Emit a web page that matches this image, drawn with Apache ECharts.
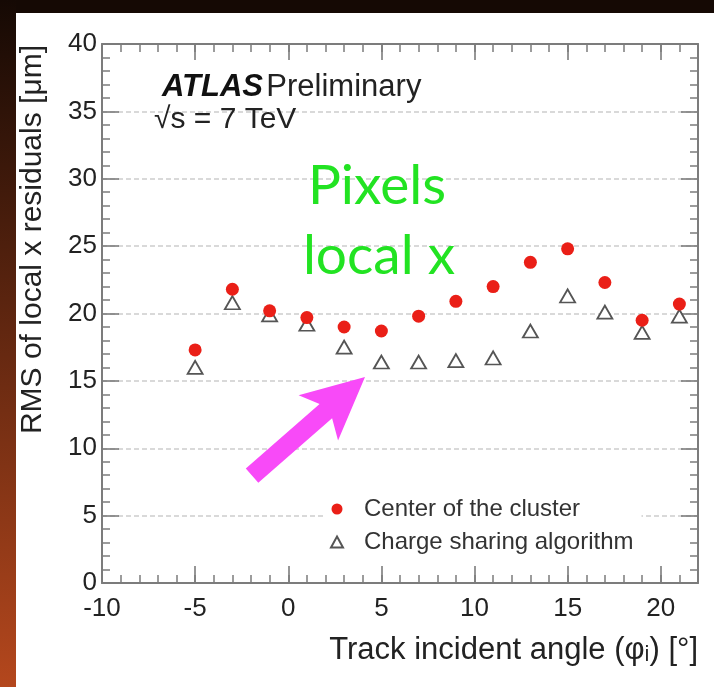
<!DOCTYPE html>
<html>
<head>
<meta charset="utf-8">
<script src="https://cdn.jsdelivr.net/npm/echarts@6/dist/echarts.min.js"></script>
<style>
html,body{margin:0;padding:0;background:#fff;}
#chart{width:714px;height:687px;}
</style>
</head>
<body>
<div id="chart"></div>
<script>
// ---- data ----
const angles = [-5, -3, -1, 1, 3, 5, 7, 9, 11, 13, 15, 17, 19, 21];
const centerOfCluster = [17.3, 21.8, 20.2, 19.7, 19.0, 18.7, 19.8, 20.9, 22.0, 23.8, 24.8, 22.3, 19.5, 20.7];
const chargeSharing = [16.0, 20.8, 19.9, 19.2, 17.5, 16.4, 16.4, 16.5, 16.7, 18.7, 21.3, 20.1, 18.6, 19.8];
const seriesNames = ['Center of the cluster', 'Charge sharing algorithm'];
const xTickLabels = [-10, -5, 0, 5, 10, 15, 20];
const yTickLabels = [0, 5, 10, 15, 20, 25, 30, 35, 40];

const FONT = '"Liberation Sans", Arial, Helvetica, sans-serif';
const AXIS_COLOR = '#7c7c7c';

const chart = echarts.init(document.getElementById('chart'), null, {renderer: 'canvas'});

function pairs(xs, ys) { return xs.map((x, i) => [x, ys[i]]); }

// arrow annotation geometry (annotation, not data)
function arrowPoints(tip, ux, uy, headLen, headHalf, notch, shaftHalf, tailLen) {
  const px = -uy, py = ux;
  const P = (a, p) => [tip[0] + a * ux + p * px, tip[1] + a * uy + p * py];
  return [
    P(0, 0),
    P(headLen, headHalf),
    P(notch, shaftHalf),
    P(tailLen, shaftHalf),
    P(tailLen, -shaftHalf),
    P(notch, -shaftHalf),
    P(headLen, -headHalf)
  ];
}
const arrowPts = arrowPoints([365, 377], -0.753, 0.658, 62, 30, 52, 9.5, 150);

const xCommon = {type: 'value', min: -10, max: 22, gridIndex: 0};

const option = {
  backgroundColor: '#ffffff',
  animation: false,
  grid: {left: 102, right: 16, top: 44, bottom: 104, containLabel: false, outerBoundsMode: 'none'},
  legend: {
    orient: 'vertical',
    left: 325,
    top: 492,
    itemWidth: 12,
    itemHeight: 11,
    itemGap: 9,
    backgroundColor: '#ffffff',
    padding: [5, 8, 5, 5],
    data: [{name: seriesNames[0], icon: 'circle'}, {name: seriesNames[1], icon: 'triangle'}],
    textStyle: {fontSize: 24, color: '#333', fontFamily: FONT, padding: [0, 0, 0, 16]}
  },
  xAxis: [
    Object.assign({}, xCommon, {
      position: 'bottom', interval: 5,
      axisLine: {show: true, onZero: false, lineStyle: {color: AXIS_COLOR, width: 2}},
      axisTick: {show: true, inside: true, length: 17, lineStyle: {color: AXIS_COLOR, width: 1.6}},
      axisLabel: {show: true, fontSize: 26, color: '#222', fontFamily: FONT, margin: 13,
        showMaxLabel: false,
        formatter: v => (xTickLabels.indexOf(v) >= 0 ? String(v) : '')},
      splitLine: {show: false},
      name: 'Track incident angle (φᵢ) [°]',
      nameLocation: 'end',
      nameGap: 0,
      nameTextStyle: {fontSize: 31, color: '#222', fontFamily: FONT, align: 'right', verticalAlign: 'top', padding: [52, 0, 0, 0]}
    }),
    Object.assign({}, xCommon, {
      position: 'bottom', interval: 1,
      axisLine: {show: false, onZero: false},
      axisTick: {show: true, inside: true, length: 8, lineStyle: {color: AXIS_COLOR, width: 1.5}},
      axisLabel: {show: false}, splitLine: {show: false}
    }),
    Object.assign({}, xCommon, {
      position: 'top', interval: 5,
      axisLine: {show: true, onZero: false, lineStyle: {color: AXIS_COLOR, width: 2}},
      axisTick: {show: true, inside: true, length: 16, lineStyle: {color: AXIS_COLOR, width: 1.6}},
      axisLabel: {show: false}, splitLine: {show: false}
    }),
    Object.assign({}, xCommon, {
      position: 'top', interval: 1,
      axisLine: {show: false, onZero: false},
      axisTick: {show: true, inside: true, length: 8, lineStyle: {color: AXIS_COLOR, width: 1.5}},
      axisLabel: {show: false}, splitLine: {show: false}
    })
  ],
  yAxis: [
    {
      type: 'value', min: 0, max: 40, interval: 5, position: 'left',
      axisLine: {show: true, onZero: false, lineStyle: {color: AXIS_COLOR, width: 2}},
      axisTick: {show: true, inside: true, length: 17, lineStyle: {color: AXIS_COLOR, width: 1.6}},
      minorTick: {show: true, splitNumber: 5, length: 8, lineStyle: {color: AXIS_COLOR, width: 1.5}},
      axisLabel: {show: true, fontSize: 26, color: '#222', fontFamily: FONT, margin: 5,
        formatter: v => (yTickLabels.indexOf(v) >= 0 ? String(v) : '')},
      splitLine: {show: true, lineStyle: {color: '#cdcdcd', width: 1.5, type: [5, 3]}},
      name: 'RMS of local x residuals [μm]',
      nameLocation: 'end',
      nameRotate: 90,
      nameGap: -1,
      nameTextStyle: {fontSize: 30, color: '#222', fontFamily: FONT, align: 'right', verticalAlign: 'bottom', padding: [0, 0, 54, 0]}
    },
    {
      type: 'value', min: 0, max: 40, interval: 5, position: 'right',
      axisLine: {show: true, onZero: false, lineStyle: {color: AXIS_COLOR, width: 2}},
      axisTick: {show: true, inside: true, length: 17, lineStyle: {color: AXIS_COLOR, width: 1.6}},
      minorTick: {show: true, splitNumber: 5, length: 8, lineStyle: {color: AXIS_COLOR, width: 1.5}},
      axisLabel: {show: false}, splitLine: {show: false}
    }
  ],
  series: [
    {
      name: seriesNames[1],
      type: 'scatter',
      xAxisIndex: 0, yAxisIndex: 0,
      symbol: 'triangle',
      symbolSize: [15, 13],
      itemStyle: {color: '#ffffff', borderColor: '#555555', borderWidth: 1.8, opacity: 1},
      data: pairs(angles, chargeSharing),
      z: 3
    },
    {
      name: seriesNames[0],
      type: 'scatter',
      xAxisIndex: 0, yAxisIndex: 0,
      symbol: 'circle',
      symbolSize: 13,
      itemStyle: {color: '#ea1f17', opacity: 1},
      data: pairs(angles, centerOfCluster),
      z: 4
    }
  ],
  graphic: [
    {type: 'rect', silent: true, z: -10, shape: {x: 0, y: 0, width: 714, height: 13}, style: {fill: '#150904'}},
    {type: 'rect', silent: true, z: -10, shape: {x: 0, y: 0, width: 16, height: 687},
      style: {fill: new echarts.graphic.LinearGradient(0, 0, 0, 1, [{offset: 0, color: '#150904'}, {offset: 1, color: '#b4471d'}])}},
    {type: 'text', silent: true, z: 50, x: 162, y: 87,
      style: {text: '{b|ATLAS} {r|Preliminary}', verticalAlign: 'middle', align: 'left',
        rich: {
          b: {fontSize: 31, fontWeight: 'bold', fontStyle: 'italic', fontFamily: FONT, fill: '#111'},
          r: {fontSize: 31, fontFamily: FONT, fill: '#222'}
        }}},
    {type: 'text', silent: true, z: 50, x: 154, y: 120,
      style: {text: '√s = 7 TeV', fontSize: 30, fontFamily: FONT, fill: '#222', verticalAlign: 'middle', align: 'left'}},
    {type: 'text', silent: true, z: 50, x: 377, y: 186,
      style: {text: 'Pixels', fontSize: 55, fontFamily: 'Lato, "Open Sans", sans-serif', fill: '#22e322', verticalAlign: 'middle', align: 'center'}},
    {type: 'text', silent: true, z: 50, x: 379, y: 256,
      style: {text: 'local x', fontSize: 55, fontFamily: 'Lato, "Open Sans", sans-serif', fill: '#22e322', verticalAlign: 'middle', align: 'center'}},
    {type: 'polygon', silent: true, z: 50, shape: {points: arrowPts}, style: {fill: '#f84af8'}}
  ]
};

chart.setOption(option);
</script>
</body>
</html>
